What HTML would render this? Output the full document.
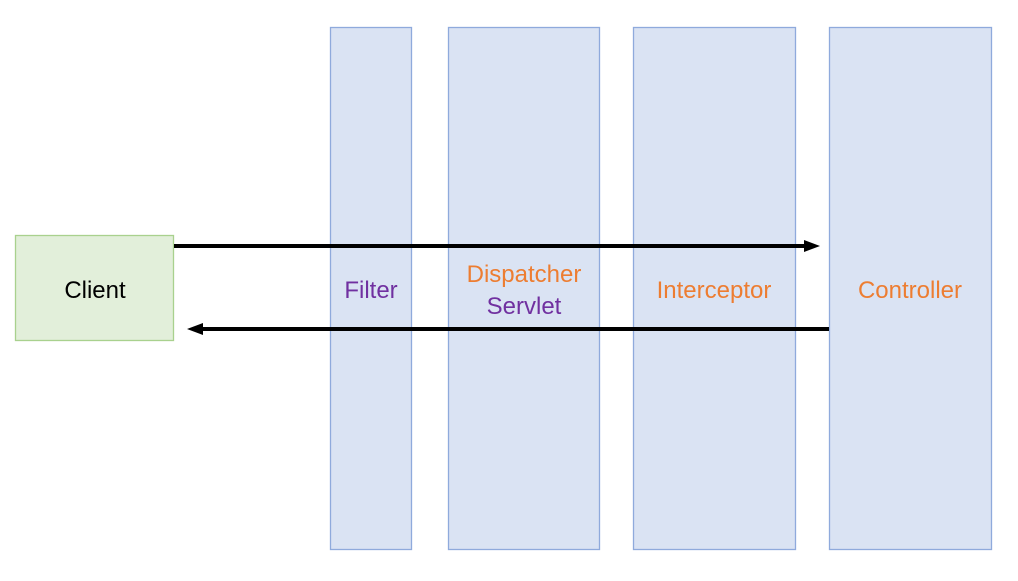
<!DOCTYPE html>
<html><head><style>body{margin:0;background:#fff}</style></head><body>
<svg width="1018" height="576" xmlns="http://www.w3.org/2000/svg" font-family="Liberation Sans, sans-serif" font-size="24">
<rect x="0" y="0" width="1018" height="576" fill="#fff"/>
<rect x="15.5" y="235.5" width="158" height="105" fill="#e2efda" stroke="#a9d18e" stroke-width="1.3"/>
<rect x="330.5" y="27.5" width="81" height="522" fill="#dae3f3" stroke="#8faadc" stroke-width="1.3"/>
<rect x="448.5" y="27.5" width="151" height="522" fill="#dae3f3" stroke="#8faadc" stroke-width="1.3"/>
<rect x="633.5" y="27.5" width="162" height="522" fill="#dae3f3" stroke="#8faadc" stroke-width="1.3"/>
<rect x="829.5" y="27.5" width="162" height="522" fill="#dae3f3" stroke="#8faadc" stroke-width="1.3"/>
<text x="95" y="298" text-anchor="middle" fill="#000">Client</text>
<text x="371" y="298" text-anchor="middle" fill="#7030a0">Filter</text>
<text x="524" y="282" text-anchor="middle" fill="#ed7d31">Dispatcher</text>
<text x="524" y="314" text-anchor="middle" fill="#7030a0">Servlet</text>
<text x="714" y="298" text-anchor="middle" fill="#ed7d31">Interceptor</text>
<text x="910" y="298" text-anchor="middle" fill="#ed7d31">Controller</text>
<line x1="174" y1="246" x2="806" y2="246" stroke="#000" stroke-width="4"/>
<polygon points="820,246 804,240 804,252" fill="#000"/>
<line x1="829" y1="329" x2="200" y2="329" stroke="#000" stroke-width="4"/>
<polygon points="187,329 203,323 203,335" fill="#000"/>
</svg>
</body></html>
